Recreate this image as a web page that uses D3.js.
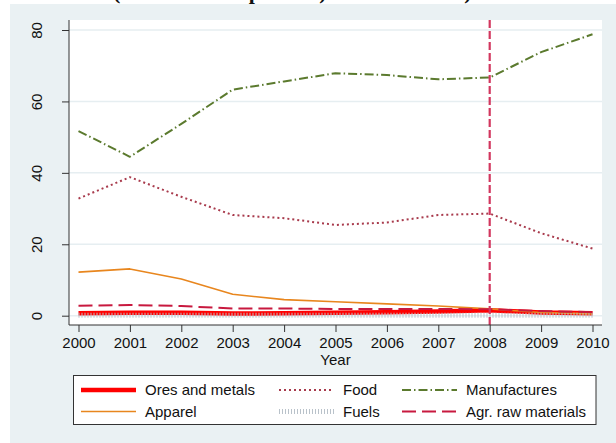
<!DOCTYPE html>
<html>
<head>
<meta charset="utf-8">
<script src="https://cdn.jsdelivr.net/npm/d3@7"></script>
<style>
  html, body { margin: 0; padding: 0; background: #ffffff; }
  svg { display: block; }
  text { font-family: "Liberation Sans", Arial, sans-serif; fill: #111; }
</style>
</head>
<body>
<svg id="chart" width="616" height="443"></svg>
<script>
// Export shares by product group, 2000–2010 (percent of total)
const years = [2000, 2001, 2002, 2003, 2004, 2005, 2006, 2007, 2008, 2009, 2010];
const oresMetals   = [0.7, 0.8, 0.8, 0.6, 0.7, 0.8, 1.0, 1.2, 1.5, 0.9, 0.7];
const food         = [32.8, 38.8, 33.3, 28.2, 27.3, 25.4, 26.1, 28.2, 28.6, 23.1, 18.8];
const manufactures = [51.7, 44.5, 53.7, 63.3, 65.6, 67.9, 67.4, 66.2, 66.7, 73.8, 78.8];
const apparel      = [12.2, 13.1, 10.3, 6.0, 4.5, 3.9, 3.3, 2.7, 1.9, 0.9, 0.5];
const fuels        = [0.1, 0.1, 0.1, 0.1, 0.1, 0.1, 0.1, 0.1, 0.1, 0.1, 0.1];
const agrRaw       = [2.8, 3.0, 2.7, 2.0, 2.0, 1.9, 1.9, 1.9, 1.8, 1.3, 1.0];
const yTicks = [0, 20, 40, 60, 80];
const markerYear = 2008;

const series = [
  { name: "Ores and metals",    values: oresMetals,   color: "#ff0000", width: 4.5, dash: null },
  { name: "Food",               values: food,         color: "#a83a4c", width: 2,   dash: "2,3" },
  { name: "Manufactures",       values: manufactures, color: "#5b7a2e", width: 2,   dash: "9,3,1.5,3" },
  { name: "Apparel",            values: apparel,      color: "#e8861e", width: 1.6, dash: null },
  { name: "Fuels",              values: fuels,        color: "#b9c2ca", width: 5,   dash: "1,2" },
  { name: "Agr. raw materials", values: agrRaw,       color: "#c8193f", width: 2,   dash: "14,6" }
];

const svg = d3.select("#chart");
const W = 616, H = 443;

// heading sits above the window; only its lowest strokes reach the top strip
svg.append("text")
  .attr("x", 113).attr("y", -1.5)
  .style("font-family", "'Liberation Serif', 'Times New Roman', serif")
  .style("font-weight", "bold").style("font-size", "22px")
  .text("(share of total percent) for 2000–2010)");

// graph region background
svg.append("rect").attr("x", 10).attr("y", 4).attr("width", W - 10).attr("height", H - 4)
  .attr("fill", "#eaf1f3");

const plot = { left: 69, right: 602, top: 20, bottom: 325 };

svg.append("rect")
  .attr("x", plot.left).attr("y", plot.top)
  .attr("width", plot.right - plot.left).attr("height", plot.bottom - plot.top)
  .attr("fill", "#ffffff");

const x = d3.scaleLinear().domain([2000, 2010]).range([78.5, 592.5]);
const y = d3.scaleLinear().domain([0, 80]).range([315.7, 30]);

// horizontal grid
svg.append("g").selectAll("line").data(yTicks).join("line")
  .attr("x1", plot.left).attr("x2", plot.right)
  .attr("y1", d => y(d)).attr("y2", d => y(d))
  .attr("stroke", "#e6eef1").attr("stroke-width", 1.5);

// series lines
const line = d3.line().x((d, i) => x(years[i])).y(d => y(d));
const lines = svg.append("g");
series.forEach(s => {
  lines.append("path")
    .attr("d", line(s.values))
    .attr("fill", "none")
    .attr("stroke", s.color)
    .attr("stroke-width", s.width)
    .attr("stroke-dasharray", s.dash)
    .attr("stroke-linejoin", "round");
});

// reference line at 2008
svg.append("line")
  .attr("x1", x(markerYear)).attr("x2", x(markerYear))
  .attr("y1", plot.top).attr("y2", plot.bottom)
  .attr("stroke", "#d2375f").attr("stroke-width", 2.2)
  .attr("stroke-dasharray", "8,3");

// axes
const yAxis = d3.axisLeft(y).tickValues(yTicks).tickSize(7).tickPadding(0);
const gy = svg.append("g").attr("transform", `translate(${plot.left},0)`).call(yAxis);
gy.select(".domain").attr("d", `M0,${plot.top}V${plot.bottom}`).attr("stroke", "#333");
gy.selectAll(".tick line").attr("stroke", "#333");
gy.selectAll(".tick text")
  .attr("x", 0).attr("y", 0).attr("dy", null)
  .attr("text-anchor", "middle")
  .attr("transform", "translate(-33,0) rotate(-90)")
  .attr("dominant-baseline", "central")
  .style("font-size", "15px").style("font-family", "'Liberation Sans', Arial, sans-serif").attr("fill", "#111");

const xAxis = d3.axisBottom(x).tickValues(years).tickFormat(d3.format("d")).tickSize(7).tickPadding(5);
const gx = svg.append("g").attr("transform", `translate(0,${plot.bottom})`).call(xAxis);
gx.select(".domain").attr("d", `M${plot.left},0H${plot.right}`).attr("stroke", "#333");
gx.selectAll(".tick line").attr("stroke", "#333");
gx.selectAll(".tick text")
  .style("font-size", "15px").style("font-family", "'Liberation Sans', Arial, sans-serif").attr("fill", "#111");

svg.append("text")
  .attr("x", (x(2000) + x(2010)) / 2).attr("y", 364.5)
  .attr("text-anchor", "middle").style("font-size", "15px")
  .text("Year");

// legend
const lg = svg.append("g");
lg.append("rect").attr("x", 73.5).attr("y", 375.5).attr("width", 522.5).attr("height", 49)
  .attr("fill", "#ffffff").attr("stroke", "#333").attr("stroke-width", 1);
const cols = [81, 279, 402];
const rows = [390, 411.5];
const keyLen = 55;
series.forEach((s, i) => {
  const cx = cols[i % 3], cy = rows[Math.floor(i / 3)];
  lg.append("line")
    .attr("x1", cx).attr("x2", cx + keyLen).attr("y1", cy).attr("y2", cy)
    .attr("stroke", s.color).attr("stroke-width", s.width)
    .attr("stroke-dasharray", s.dash);
  lg.append("text")
    .attr("x", cx + keyLen + 9).attr("y", cy).attr("dy", "0.36em")
    .style("font-size", "15px")
    .text(s.name);
});
</script>
</body>
</html>
